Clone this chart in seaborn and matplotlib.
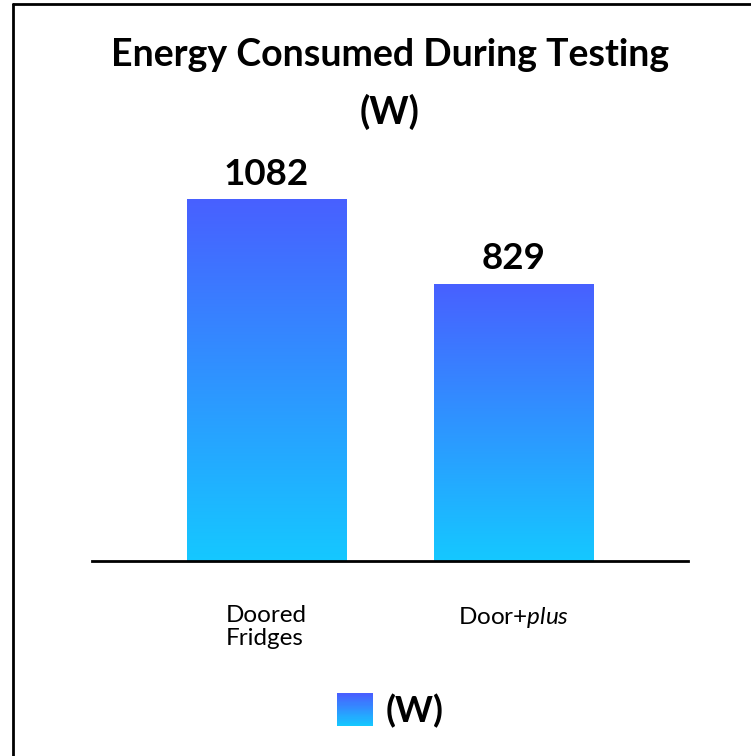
import numpy as np
import matplotlib
matplotlib.use("Agg")
import matplotlib.pyplot as plt
import seaborn as sns
from matplotlib.colors import LinearSegmentedColormap
from matplotlib.patches import Rectangle
from matplotlib.lines import Line2D
from matplotlib.legend_handler import HandlerBase

# Données
categories = ["Doored\nFridges", "Door+$\\it{plus}$"]
values = [1082, 829]
series_name = "(W)"
title = "Energy Consumed During Testing\n(W)"

TOP_COLOR = "#4860ff"
BOTTOM_COLOR = "#15c8ff"

sns.set_theme(style="white")
plt.rcParams["font.family"] = ["Lato", "DejaVu Sans"]
plt.rcParams["mathtext.fontset"] = "custom"
plt.rcParams["mathtext.it"] = "Lato:italic"
plt.rcParams["mathtext.rm"] = "Lato"
plt.rcParams["text.color"] = "black"
plt.rcParams["xtick.color"] = "black"

cmap = LinearSegmentedColormap.from_list("grad", [BOTTOM_COLOR, TOP_COLOR])


class GradientHandler(HandlerBase):
    # carré de légende en dégradé, par bandes
    def create_artists(self, legend, orig_handle, xdescent, ydescent,
                       width, height, fontsize, trans):
        n = 30
        arts = []
        for i in range(n):
            r = Rectangle((-xdescent, -ydescent + height * i / n), width, height / n + 0.3,
                          facecolor=cmap(i / (n - 1)), edgecolor="none", transform=trans)
            arts.append(r)
        return arts


fig = plt.figure(figsize=(7.51, 7.56), dpi=100)
ax = fig.add_axes([92 / 751, 195 / 756, 596 / 751, 411 / 756])

sns.barplot(x=list(range(len(values))), y=values, ax=ax, width=0.644,
            color=TOP_COLOR, saturation=1)

ax.set_xlim(-0.7065, 1.7065)
ax.set_ylim(0, max(values) * 411 / 362)

# dégradé dans chaque barre
grad = np.linspace(0, 1, 256).reshape(-1, 1)
for p in ax.patches:
    x0, y0 = p.get_x(), p.get_y()
    w, h = p.get_width(), p.get_height()
    im = ax.imshow(grad, cmap=cmap, origin="lower", aspect="auto",
                   extent=[x0, x0 + w, y0, y0 + h], zorder=p.get_zorder())
    im.set_clip_path(p)
    p.set_facecolor("none")

for c in ax.containers:
    ax.bar_label(c, labels=[str(v) for v in values], padding=6,
                 fontsize=26.5, fontweight="bold", color="black")

ax.set_xticks(range(len(categories)))
ax.set_xticklabels(categories, fontsize=17.5, linespacing=1.1, multialignment="left")
ax.tick_params(axis="x", length=0, pad=32)
ax.set_yticks([])
ax.set_xlabel("")
ax.set_ylabel("")
for s in ["top", "left", "right"]:
    ax.spines[s].set_visible(False)
ax.spines["bottom"].set_color("black")
ax.spines["bottom"].set_linewidth(2)

fig.text(390 / 751, 1 - 84 / 756, title, ha="center", va="center",
         fontsize=27, fontweight="bold", linespacing=1.75, color="black")

leg = fig.legend(handles=[Rectangle((0, 0), 1, 1)], labels=[series_name],
                 handler_map={Rectangle: GradientHandler()},
                 loc="center", bbox_to_anchor=(390 / 751, 1 - 711 / 756),
                 frameon=False, handlelength=1.0, handleheight=1.0,
                 handletextpad=0.35, prop={"size": 26, "weight": "bold"})

# cadre (haut et gauche visibles)
fx, fy = 12.5 / 751, 1 - 3.5 / 756
fig.add_artist(Line2D([fx, 1.0], [fy, fy], transform=fig.transFigure, color="black", linewidth=2))
fig.add_artist(Line2D([fx, fx], [0.0, fy], transform=fig.transFigure, color="black", linewidth=2))

fig.savefig("out.png", dpi=100, facecolor="white")
plt.close()
